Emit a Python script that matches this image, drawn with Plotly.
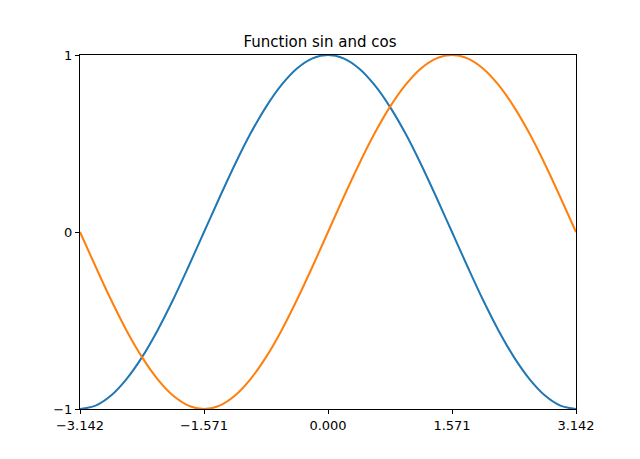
import plotly.graph_objects as go

# Sample points (x in radians)
x_vals = [-3.142, -2.945, -2.749, -2.553, -2.356, -2.160, -1.963, -1.767, -1.571,
          -1.374, -1.178, -0.982, -0.785, -0.589, -0.393, -0.196, 0.000,
          0.196, 0.393, 0.589, 0.785, 0.982, 1.178, 1.374, 1.571,
          1.767, 1.963, 2.160, 2.356, 2.553, 2.749, 2.945, 3.142]
cos_vals = [-1.000, -0.981, -0.924, -0.831, -0.707, -0.556, -0.383, -0.195, 0.000,
            0.195, 0.383, 0.556, 0.707, 0.831, 0.924, 0.981, 1.000,
            0.981, 0.924, 0.831, 0.707, 0.556, 0.383, 0.195, 0.000,
            -0.195, -0.383, -0.556, -0.707, -0.831, -0.924, -0.981, -1.000]
sin_vals = [0.000, -0.195, -0.383, -0.556, -0.707, -0.831, -0.924, -0.981, -1.000,
            -0.981, -0.924, -0.831, -0.707, -0.556, -0.383, -0.195, 0.000,
            0.195, 0.383, 0.556, 0.707, 0.831, 0.924, 0.981, 1.000,
            0.981, 0.924, 0.831, 0.707, 0.556, 0.383, 0.195, 0.000]

x_tickvals = [-3.142, -1.571, 0.0, 1.571, 3.142]
x_ticktext = ["\u22123.142", "\u22121.571", "0.000", "1.571", "3.142"]
y_tickvals = [-1, 0, 1]
y_ticktext = ["\u22121", "0", "1"]
title = "Function sin and cos"

fig = go.Figure()
fig.add_trace(go.Scatter(x=x_vals, y=cos_vals, mode="lines",
                         line=dict(color="#1f77b4", width=2, shape="spline", smoothing=1.0),
                         name="cos"))
fig.add_trace(go.Scatter(x=x_vals, y=sin_vals, mode="lines",
                         line=dict(color="#ff7f0e", width=2, shape="spline", smoothing=1.0),
                         name="sin"))

axis_common = dict(showline=True, linecolor="black", linewidth=1, mirror=True,
                   ticks="outside", ticklen=4, tickwidth=1, tickcolor="black",
                   showgrid=False, zeroline=False,
                   tickfont=dict(family="DejaVu Sans", size=13, color="black"))

fig.update_layout(
    width=640, height=459,
    margin=dict(l=80, r=64, t=55, b=50),
    paper_bgcolor="white", plot_bgcolor="white",
    showlegend=False,
    title=dict(text=title, x=0.5, xanchor="center", y=1 - 42 / 459, yanchor="middle",
               font=dict(family="DejaVu Sans", size=15, color="black")),
    xaxis=dict(range=[-3.142, 3.142], tickvals=x_tickvals, ticktext=x_ticktext, **axis_common),
    yaxis=dict(range=[-1, 1], tickvals=y_tickvals, ticktext=y_ticktext, **axis_common),
)

fig.write_html("out.html")
